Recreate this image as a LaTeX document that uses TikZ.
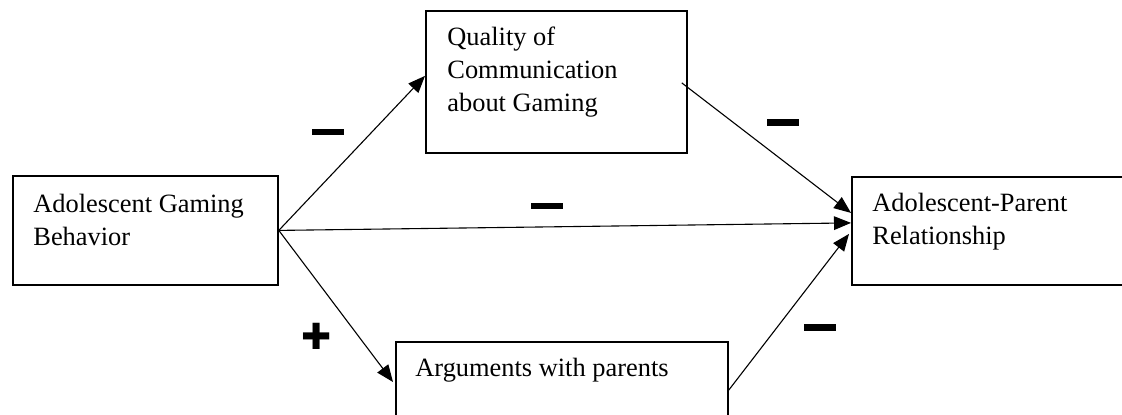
\documentclass[tikz,border=0pt]{standalone}
\usepackage{fontspec}
\setmainfont{Liberation Serif}
\newfontfamily\symfont{DejaVu Sans}
\usetikzlibrary{arrows.meta}
\begin{document}
\begin{tikzpicture}[x=0.5pt,y=-0.5pt,
  box/.style={draw, line width=0.9pt, anchor=north west, inner sep=0pt},
  lbl/.style={anchor=base west, inner sep=0pt, font=\fontsize{13.2pt}{16.5pt}\selectfont},
  conn/.style={line width=0.55pt, -{Triangle[length=8.5pt,width=6.8pt]}},
  minussign/.style={fill=black, inner sep=0pt, minimum width=16pt, minimum height=3.2pt},
  plussign/.style={inner sep=0pt, font=\symfont\bfseries\fontsize{18pt}{18pt}\selectfont}
]
\useasboundingbox (0,0) rectangle (1122,414);
\clip (0,0) rectangle (1122,414);
\fill[white] (0,0) rectangle (1122,414);

% boxes
\node[box, minimum width=132.5pt, minimum height=54.5pt] (gb) at (12,175) {};
\node[box, minimum width=130.5pt, minimum height=71pt] (qc) at (425,10) {};
\node[box, minimum width=140pt, minimum height=54pt] (ap) at (851,176) {};
\node[box, minimum width=166pt, minimum height=50pt] (ag) at (395,341) {};

% texts
\node[lbl] (tgb) at (33,212) {\parbox[t]{200pt}{Adolescent Gaming\\Behavior}};
\node[lbl] (tqc) at (447,45) {\parbox[t]{200pt}{Quality of\\Communication\\about Gaming}};
\node[lbl] (tap) at (872,211) {\parbox[t]{200pt}{Adolescent-Parent\\Relationship}};
\node[lbl] (tag) at (415,376) {\parbox[t]{200pt}{Arguments with parents}};

% connectors
\draw[conn] (gb.east) -- ([yshift=3pt]qc.west);
\draw[conn] (gb.east) -- ([yshift=4pt]ap.west);
\draw[conn] (gb.east) -- ([xshift=-1pt,yshift=-20.5pt]ag.north west);
\draw[conn] ([xshift=-3pt,yshift=-0.5pt]qc.east) -- ([yshift=9pt]ap.west);
\draw[conn] ([yshift=-24.5pt]ag.north east) -- ([xshift=-1pt,yshift=-1.5pt]ap.west);

% signs
\node[minussign] (m1) at (327.5,132) {};
\node[minussign] (m2) at (782.5,122.5) {};
\node[minussign] (m3) at (546.5,206) {};
\node[minussign] (m4) at (820,327.5) {};
\node[plussign] (p1) at (316.5,336.5) {✚};
\end{tikzpicture}
\end{document}
